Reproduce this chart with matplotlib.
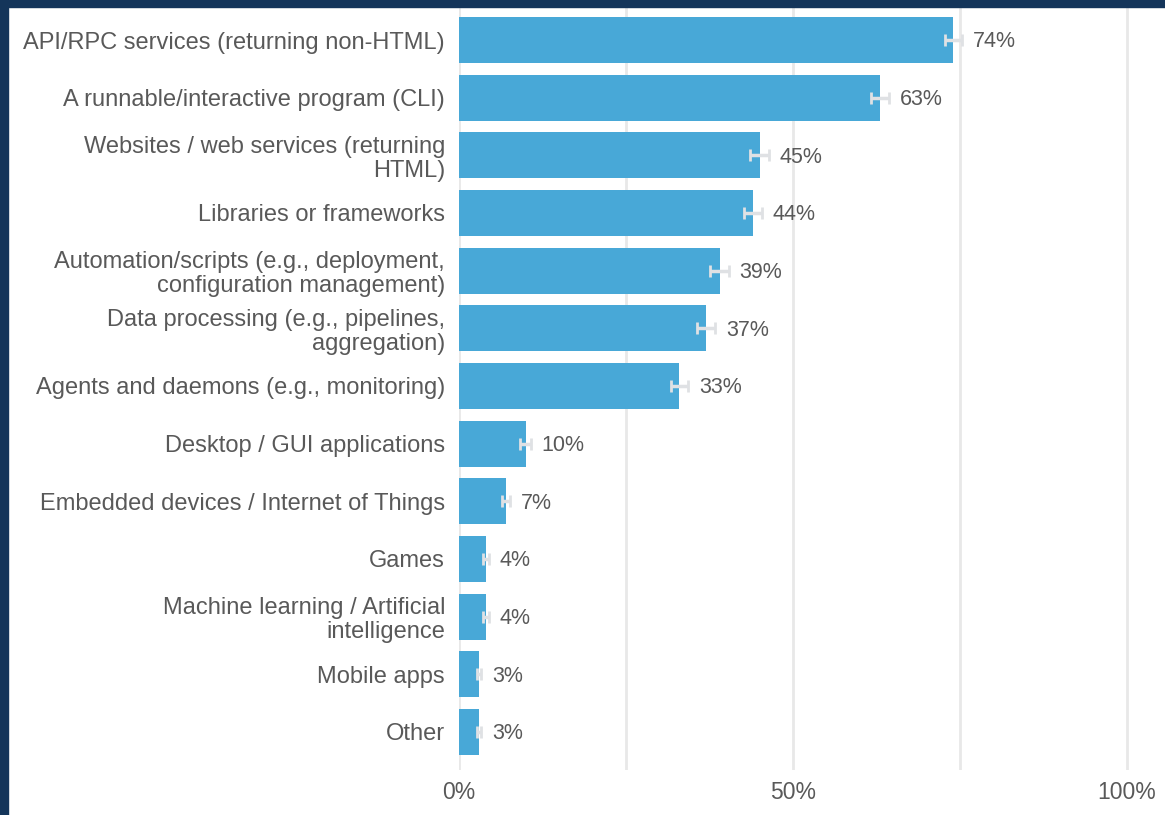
import numpy as np
import matplotlib
matplotlib.use("Agg")
import matplotlib.pyplot as plt
from matplotlib.patches import Rectangle

plt.rcParams['font.family'] = ['Liberation Sans', 'DejaVu Sans']

categories = [
    "API/RPC services (returning non-HTML)",
    "A runnable/interactive program (CLI)",
    "Websites / web services (returning\nHTML)",
    "Libraries or frameworks",
    "Automation/scripts (e.g., deployment,\nconfiguration management)",
    "Data processing (e.g., pipelines,\naggregation)",
    "Agents and daemons (e.g., monitoring)",
    "Desktop / GUI applications",
    "Embedded devices / Internet of Things",
    "Games",
    "Machine learning / Artificial\nintelligence",
    "Mobile apps",
    "Other",
]
values = [74, 63, 45, 44, 39, 37, 33, 10, 7, 4, 4, 3, 3]
errors = [1.3, 1.35, 1.4, 1.4, 1.4, 1.35, 1.3, 0.8, 0.6, 0.45, 0.45, 0.35, 0.35]
xticks = [0, 50, 100]
xticklabels = ["0%", "50%", "100%"]

W, H = 1165, 815
fig = plt.figure(figsize=(W / 100, H / 100), dpi=100)
fig.patch.set_facecolor("white")

ax = fig.add_axes([459 / W, 1 - 770 / H, (W - 459) / W, (770 - 8) / H])
y = np.arange(len(categories))

ax.barh(y, values, height=0.8, color="#48A8D7", zorder=2)
ax.errorbar(values, y, xerr=errors, fmt="none", ecolor="#DFE1E4",
            elinewidth=2.5, capsize=4, capthick=2, zorder=3)

for yi, v, e in zip(y, values, errors):
    ax.text(v + e + 1.6, yi + 0.03, f"{v}%", va="center", ha="left",
            fontsize=15.5, color="#595959", zorder=4)

ax.set_xlim(0, 100 * (W - 459) / 668)
ax.set_ylim(12.66, -0.555)
ax.set_yticks(y)
ax.set_yticklabels(categories, fontsize=17, color="#595959", linespacing=1.1)
ax.set_xticks(xticks)
ax.set_xticklabels(xticklabels, fontsize=16.5, color="#595959")
ax.tick_params(axis="both", length=0)
ax.tick_params(axis="y", pad=10)
ax.tick_params(axis="x", pad=8)

for gx in [0, 25, 50, 75, 100]:
    ax.axvline(gx, color="#E8E8E8", lw=2, zorder=1)

for s in ax.spines.values():
    s.set_visible(False)

# dark frame on left and top
fig.patches.append(Rectangle((0, 0), 8 / W, 1, transform=fig.transFigure,
                             color="#14355A", zorder=10))
fig.patches.append(Rectangle((0, 1 - 7 / H), 1, 7 / H, transform=fig.transFigure,
                             color="#14355A", zorder=10))

fig.savefig("out.png", dpi=100)
